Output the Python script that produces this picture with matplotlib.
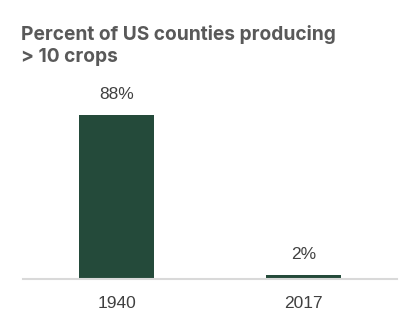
import matplotlib
matplotlib.use("Agg")
import matplotlib.pyplot as plt

years = ["1940", "2017"]
share = [88, 2]  # percent of US counties producing more than 10 crops

BAR_C = "#244a3a"
TXT_C = "#404040"
TITLE_C = "#595959"
LABEL_FONT = ["Liberation Sans", "DejaVu Sans"]

fig = plt.figure(figsize=(4.2, 3.27), dpi=100)
ax = fig.add_axes([0.055, 0.147, 0.89, 0.563])
x = range(len(years))
bars = ax.bar(x, share, width=0.4, color=BAR_C)
for b, v in zip(bars, share):
    ax.annotate(f"{v}%", (b.get_x() + b.get_width() / 2, v), xytext=(0, 9.5),
                textcoords="offset points", ha="center", va="bottom",
                fontsize=12.5, color=TXT_C, family=LABEL_FONT)
ax.set_xlim(-0.5, 1.5)
ax.set_ylim(0, 98.7)
ax.set_xticks(list(x), years, fontsize=12.5, color=TXT_C, family=LABEL_FONT)
ax.tick_params(axis="x", length=0, pad=12)
ax.set_yticks([])
for s in ("top", "right", "left"):
    ax.spines[s].set_visible(False)
ax.spines["bottom"].set_color("#d9d9d9")
ax.spines["bottom"].set_linewidth(1.5)

fig.text(0.05, 0.925, "Percent of US counties producing\n> 10 crops", ha="left", va="top",
         fontsize=13.8, fontweight="bold", color=TITLE_C, linespacing=1.35,
         family=["Inter", "DejaVu Sans"])
fig.savefig("out.png", dpi=100)
